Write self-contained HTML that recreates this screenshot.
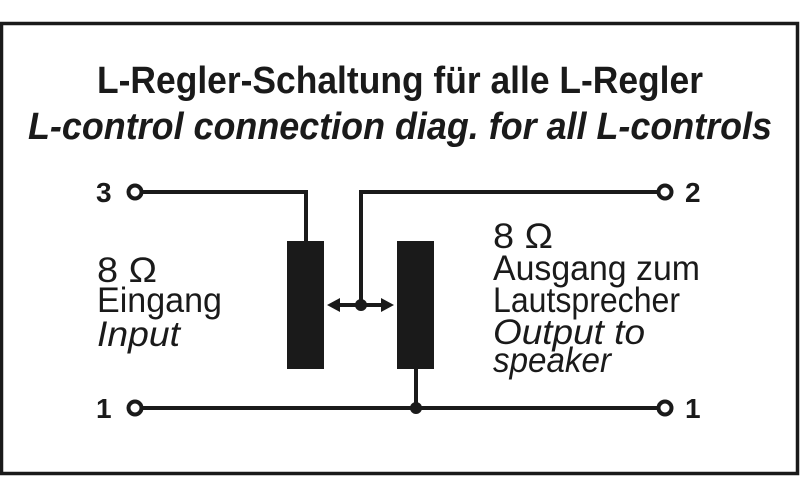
<!DOCTYPE html>
<html><head><meta charset="utf-8"><style>html,body{margin:0;padding:0;background:#fff}svg{display:block}</style></head>
<body>
<svg width="800" height="500" viewBox="0 0 800 500" xmlns="http://www.w3.org/2000/svg" font-family="Liberation Sans, sans-serif" fill="#1a1a1a">
<rect x="1.5" y="23.5" width="796" height="450" fill="#fff" stroke="#1a1a1a" stroke-width="3.5"/>
<text x="400" y="93" font-size="38" font-weight="bold" text-anchor="middle" textLength="606" lengthAdjust="spacingAndGlyphs">L-Regler-Schaltung für alle L-Regler</text>
<text x="400" y="139" font-size="38" font-weight="bold" font-style="italic" text-anchor="middle" textLength="744" lengthAdjust="spacingAndGlyphs">L-control connection diag. for all L-controls</text>
<g stroke="#1a1a1a" stroke-width="4" fill="none">
<polyline points="142,192 306,192 306,242"/>
<polyline points="658,192 361,192 361,305"/>
<line x1="142" y1="408" x2="658" y2="408"/>
<line x1="416" y1="369" x2="416" y2="408"/>
<line x1="336" y1="305" x2="386" y2="305"/>
<circle cx="135" cy="192" r="6.5" stroke-width="4" fill="#fff"/>
<circle cx="665" cy="192" r="6.5" stroke-width="4" fill="#fff"/>
<circle cx="135" cy="408" r="6.5" stroke-width="4" fill="#fff"/>
<circle cx="665" cy="408" r="6.5" stroke-width="4" fill="#fff"/>
</g>
<rect x="287" y="241" width="37" height="128"/>
<rect x="397" y="241" width="37" height="128"/>
<circle cx="361" cy="305" r="6"/>
<circle cx="416" cy="408" r="6"/>
<polygon points="327,305 340,298 340,312"/>
<polygon points="394,305 381,298 381,312"/>
<g font-size="28" font-weight="bold">
<text x="96" y="202">3</text>
<text x="96" y="418">1</text>
<text x="685" y="202">2</text>
<text x="685" y="418">1</text>
</g>
<g font-size="35">
<text x="97" y="282" textLength="60" lengthAdjust="spacingAndGlyphs">8 Ω</text>
<text x="97" y="312" textLength="125" lengthAdjust="spacingAndGlyphs">Eingang</text>
<text x="97" y="346" font-style="italic" textLength="83" lengthAdjust="spacingAndGlyphs">Input</text>
<text x="493" y="248" textLength="60" lengthAdjust="spacingAndGlyphs">8 Ω</text>
<text x="493" y="280" textLength="207" lengthAdjust="spacingAndGlyphs">Ausgang zum</text>
<text x="493" y="312" textLength="187" lengthAdjust="spacingAndGlyphs">Lautsprecher</text>
<text x="493" y="344" font-style="italic" textLength="152" lengthAdjust="spacingAndGlyphs">Output to</text>
<text x="493" y="372" font-style="italic" textLength="118" lengthAdjust="spacingAndGlyphs">speaker</text>
</g>
</svg>
</body></html>
